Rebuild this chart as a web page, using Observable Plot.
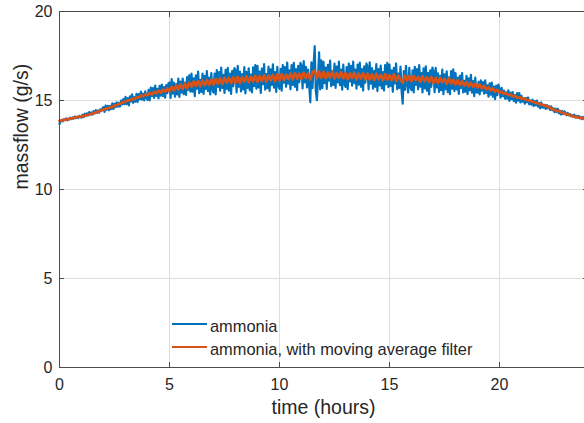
<!DOCTYPE html>
<html><head><meta charset="utf-8">
<script src="https://cdn.jsdelivr.net/npm/d3@7"></script>
<script src="https://cdn.jsdelivr.net/npm/@observablehq/plot@0.6"></script>
<style>
html,body{margin:0;padding:0;background:#fff;overflow:hidden;width:584px;height:423px}
#chart svg{overflow:hidden;display:block}
</style></head><body><div id="chart"></div>
<script>
// raw signal sampled every 0.05 h, filtered signal every 0.1 h, both from 0 h
const startHour = 0;
const rawStepHours = 0.05;
const filteredStepHours = 0.1;

// raw ammonia massflow (g/s) (one row per hour)
const ammonia = [
13.68,13.83,13.91,13.83,13.94,13.90,13.99,13.89,13.98,13.93,14.03,13.95,14.05,13.99,14.10,14.01,14.08,14.01,14.14,14.06,
14.04,14.20,14.07,14.26,14.15,14.28,14.16,14.35,14.22,14.33,14.21,14.40,14.28,14.46,14.30,14.44,14.31,14.50,14.41,14.56,
14.63,14.36,14.72,14.48,14.70,14.46,14.70,14.52,14.84,14.52,14.82,14.63,14.90,14.65,14.87,14.66,15.00,14.78,15.08,14.79,
15.20,14.80,15.13,14.73,15.23,14.94,15.35,14.87,15.19,14.93,15.37,14.92,15.36,15.07,15.50,15.05,15.38,15.01,15.52,15.16,
15.03,15.60,15.00,15.73,15.24,15.70,15.15,15.84,15.26,15.65,15.12,15.82,15.27,15.90,15.24,15.75,15.16,15.86,15.41,15.96,
16.01,15.14,16.20,15.39,16.01,15.22,15.92,15.34,16.23,15.20,16.06,15.44,16.23,15.36,16.01,15.31,16.31,15.59,16.42,15.50,
16.51,15.50,16.25,15.24,16.41,15.66,16.62,15.41,16.16,15.48,16.51,15.37,16.39,15.65,16.65,15.53,16.28,15.34,16.54,15.63,
15.44,16.51,15.34,16.71,15.77,16.60,15.55,16.85,15.71,16.44,15.42,16.72,15.65,16.84,15.55,16.51,15.37,16.67,15.80,16.82,
16.70,15.45,16.94,15.77,16.63,15.51,16.48,15.62,16.87,15.40,16.61,15.71,16.81,15.57,16.46,15.46,16.86,15.81,16.99,15.66,
16.94,15.74,16.63,15.43,16.79,15.92,17.04,15.61,16.49,15.69,16.90,15.54,16.75,15.87,17.03,15.72,16.60,15.48,16.89,15.81,
15.66,16.78,15.55,16.99,16.00,16.88,15.77,17.13,15.94,16.70,15.63,16.99,15.88,17.12,15.77,16.77,15.58,16.94,16.03,17.11,
16.96,15.68,17.21,16.01,16.89,15.74,16.74,15.86,14.90,17.15,15.70,17.04,18.05,15.55,15.02,16.20,17.70,15.62,17.25,15.70,
17.17,15.97,16.85,15.65,17.00,16.12,17.24,15.80,16.67,15.87,17.07,15.71,16.90,16.02,17.18,15.86,16.73,15.61,17.01,15.93,
15.76,16.88,15.64,17.07,16.07,16.95,15.83,17.18,15.98,16.74,15.66,17.02,15.89,17.13,15.77,16.77,15.56,16.92,16.00,17.08,
16.91,15.63,17.15,15.94,16.82,15.66,16.66,15.77,17.05,15.53,16.77,15.85,16.96,15.68,16.60,15.56,16.99,15.91,17.11,15.75,
17.02,15.82,16.69,15.49,16.84,15.96,17.08,15.63,16.51,15.71,16.90,15.54,14.82,16.65,15.60,16.95,15.92,15.45,16.83,15.75,
15.58,16.70,15.45,16.89,15.88,16.76,15.63,16.99,15.78,16.54,15.45,16.81,15.68,16.92,15.55,16.55,15.34,16.70,15.77,16.85,
16.62,15.46,16.83,15.74,16.53,15.48,16.38,15.58,16.73,15.35,16.47,15.63,16.64,15.47,16.30,15.36,16.65,15.67,16.75,15.52,
16.54,15.63,16.28,15.37,16.38,15.71,16.54,15.45,16.10,15.49,16.39,15.36,16.25,15.58,16.44,15.44,16.09,15.24,16.28,15.46,
15.44,16.05,15.34,16.13,15.55,16.04,15.38,16.13,15.43,15.85,15.22,15.97,15.33,16.01,15.22,15.78,15.08,15.83,15.30,15.89,
15.66,15.16,15.71,15.24,15.56,15.10,15.46,15.11,15.57,14.98,15.44,15.07,15.47,14.97,15.30,14.88,15.42,14.99,15.42,14.89,
15.26,14.94,15.14,14.82,15.14,14.90,15.17,14.79,14.99,14.77,15.05,14.69,14.97,14.73,15.00,14.66,14.86,14.56,14.89,14.60,
14.60,14.76,14.53,14.74,14.56,14.68,14.47,14.67,14.45,14.56,14.35,14.55,14.35,14.53,14.28,14.43,14.21,14.41,14.23,14.39,
14.31,14.17,14.30,14.17,14.24,14.11,14.19,14.09,14.20,14.04,14.14,14.04,14.13,14.00,14.07,13.95,14.08,13.96,14.06,13.91,
13.97
];

// ammonia with moving average filter (g/s), one row per hour
const ammoniaFiltered = [
13.86,13.88,13.91,13.93,13.96,13.99,14.01,14.04,14.06,14.09,
14.11,14.14,14.16,14.20,14.22,14.27,14.30,14.36,14.39,14.45,
14.49,14.53,14.56,14.62,14.64,14.72,14.74,14.81,14.84,14.91,
14.94,15.00,15.01,15.09,15.08,15.18,15.17,15.27,15.24,15.33,
15.30,15.42,15.34,15.48,15.40,15.56,15.44,15.60,15.50,15.68,
15.52,15.76,15.58,15.84,15.62,15.90,15.66,15.95,15.70,16.00,
15.78,16.06,15.82,16.10,15.80,16.12,15.86,16.15,15.88,16.16,
15.90,16.20,15.95,16.25,15.92,16.28,16.00,16.26,15.98,16.30,
16.02,16.32,15.98,16.30,16.06,16.36,16.02,16.34,16.08,16.38,
16.05,16.36,16.10,16.42,16.06,16.40,16.14,16.44,16.08,16.46,
16.14,16.48,16.16,16.44,16.20,16.52,16.18,16.54,16.24,16.50,
16.22,16.56,16.26,16.52,16.18,16.58,16.68,16.26,16.62,16.28,
16.60,16.26,16.56,16.30,16.62,16.24,16.54,16.28,16.58,16.26,
16.54,16.20,16.52,16.26,16.56,16.18,16.50,16.24,16.52,16.20,
16.50,16.18,16.46,16.15,16.50,16.20,16.44,16.14,16.48,16.18,
16.42,16.15,16.46,16.10,16.40,16.18,16.00,16.40,16.14,16.36,
16.08,16.38,16.14,16.32,16.05,16.36,16.10,16.30,16.04,16.32,
16.00,16.26,15.98,16.28,16.02,16.22,15.94,16.24,15.96,16.16,
15.90,16.14,15.88,16.08,15.84,16.04,15.80,15.99,15.77,15.93,
15.73,15.90,15.69,15.83,15.63,15.75,15.57,15.68,15.50,15.60,
15.45,15.50,15.38,15.42,15.30,15.33,15.24,15.26,15.16,15.18,
15.10,15.12,15.04,15.02,14.96,14.95,14.88,14.86,14.80,14.78,
14.74,14.70,14.64,14.60,14.52,14.48,14.40,14.42,14.34,14.30,
14.25,14.22,14.18,14.14,14.10,14.08,14.04,14.02,13.99,13.98,
13.97
];

const xTicks = [0, 5, 10, 15, 20];
const yTicks = [0, 5, 10, 15, 20];
const xDomain = [0, 24];
const yDomain = [0, 20];
const legendLabels = ["ammonia", "ammonia, with moving average filter"];
const seriesColors = ["#0072BD", "#D95319"];
const xLabel = "time (hours)";
const yLabel = "massflow (g/s)";

const toRows = (vals, step) => vals.map((v, i) => ({t: startHour + i * step, v}));
const FONT = "'Liberation Sans', Arial, Helvetica, sans-serif";
const INK = "#262626";
const AXIS = "#4d4d4d";

const chart = Plot.plot({
  width: 584, height: 423,
  marginLeft: 59, marginTop: 11, marginBottom: 56, marginRight: -3,
  x: {domain: xDomain, label: null},
  y: {domain: yDomain, label: null},
  style: {fontFamily: FONT, color: INK, background: "#fff", overflow: "hidden"},
  marks: [
    Plot.gridX(xTicks, {stroke: "#dedede", strokeOpacity: 1}),
    Plot.gridY(yTicks, {stroke: "#dedede", strokeOpacity: 1}),
    Plot.line(toRows(ammonia, rawStepHours), {x: "t", y: "v", stroke: seriesColors[0], strokeWidth: 2.2}),
    Plot.line(toRows(ammoniaFiltered, filteredStepHours), {x: "t", y: "v", stroke: seriesColors[1], strokeWidth: 2.8}),
    Plot.frame({stroke: AXIS}),
    Plot.axisX(xTicks, {anchor: "bottom", tickSize: 5, dy: -5, fill: "none", stroke: AXIS, label: null}),
    Plot.axisX(xTicks, {anchor: "top", tickSize: 5, dy: 5, fill: "none", stroke: AXIS, label: null}),
    Plot.axisY(yTicks, {anchor: "left", tickSize: 5, dx: 5, fill: "none", stroke: AXIS, label: null}),
    Plot.axisY(yTicks, {anchor: "right", tickSize: 5, dx: -5, fill: "none", stroke: AXIS, label: null}),
    Plot.axisX(xTicks, {anchor: "bottom", tickSize: 0, tickPadding: 11, fontSize: 16, fill: INK, label: null}),
    Plot.axisY(yTicks, {anchor: "left", tickSize: 0, tickPadding: 7, fontSize: 16, fill: INK, label: null}),
    Plot.text([xLabel], {frameAnchor: "bottom", dy: 46, fontSize: 19.5, fill: INK}),
    Plot.text([yLabel], {frameAnchor: "left", dx: -38, rotate: -90, fontSize: 19.5, fill: INK})
  ]
});

// legend (no box), inside the axes near the bottom
const svg = d3.select(chart);
const lg = svg.append("g").attr("font-family", FONT).attr("font-size", 16.4)
  .attr("fill", INK).attr("text-anchor", "start");
const legendY = [324, 347];
legendLabels.forEach((label, i) => {
  const y = legendY[i];
  lg.append("line").attr("x1", 172).attr("x2", 207).attr("y1", y).attr("y2", y)
    .attr("stroke", seriesColors[i]).attr("stroke-width", 2);
  lg.append("text").attr("x", 210).attr("y", y + 7.5).text(label);
});

document.getElementById("chart").append(chart);
</script>
</body></html>
